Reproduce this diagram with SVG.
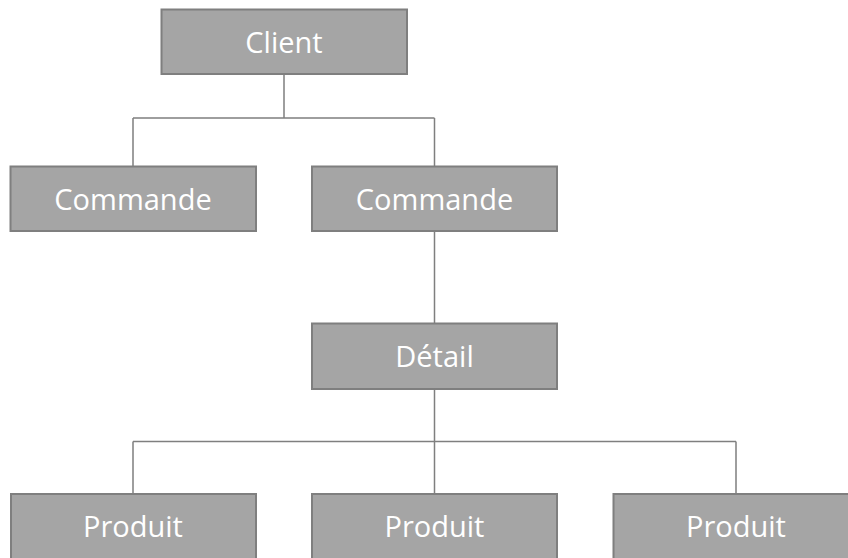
<svg xmlns="http://www.w3.org/2000/svg" width="848" height="558" viewBox="0 0 848 558">
<style>
.box{fill:#a5a5a5;stroke:#7f7f7f;stroke-width:2}
.lbl{fill:#ffffff;font-family:"Open Sans","Noto Sans",sans-serif;font-size:29px;text-anchor:middle}
.conn{fill:none;stroke:#7f7f7f;stroke-width:1.5}
</style>
<rect width="848" height="558" fill="#ffffff"/>
<g id="connectors" class="conn">
<path d="M284 74 V118 M133 118 H434.5 M133 118 V166.5 M434.5 118 V166.5"/>
<path d="M434.5 231 V323.5"/>
<path d="M434.5 389 V441.5 M133 441.5 H736 M133 441.5 V494 M434.5 441.5 V494 M736 441.5 V494"/>
</g>
<g id="client"><rect class="box" x="161.5" y="9.5" width="245.5" height="64.5"/><text class="lbl" x="284" y="53">Client</text></g>
<g id="commande1"><rect class="box" x="10.5" y="166.5" width="245.5" height="64.5"/><text class="lbl" x="133" y="210">Commande</text></g>
<g id="commande2"><rect class="box" x="312" y="166.5" width="245" height="64.5"/><text class="lbl" x="434.5" y="210">Commande</text></g>
<g id="detail"><rect class="box" x="312" y="323.5" width="245" height="65.5"/><text class="lbl" x="434.5" y="367">Détail</text></g>
<g id="produit1"><rect class="box" x="11" y="494" width="245" height="66"/><text class="lbl" x="133" y="537">Produit</text></g>
<g id="produit2"><rect class="box" x="312" y="494" width="245" height="66"/><text class="lbl" x="434.5" y="537">Produit</text></g>
<g id="produit3"><rect class="box" x="613.5" y="494" width="245" height="66"/><text class="lbl" x="736" y="537">Produit</text></g>
</svg>
